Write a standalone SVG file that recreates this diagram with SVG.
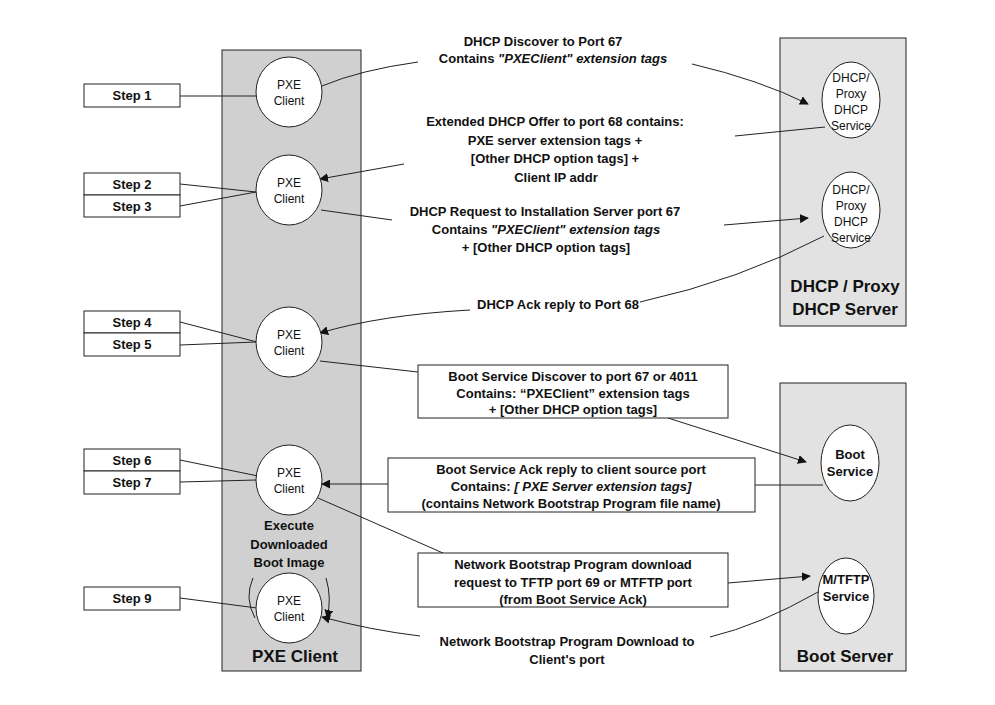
<svg xmlns="http://www.w3.org/2000/svg" width="995" height="705" viewBox="0 0 995 705">
<style>
text{font-family:"Liberation Sans",Arial,sans-serif;fill:#111}
.l{font-size:13px;font-weight:bold;text-anchor:middle}
.c{font-size:12px;text-anchor:middle}
.t{font-size:17px;font-weight:bold;text-anchor:middle}
.s{font-size:13px;font-weight:bold;text-anchor:middle}
.node{fill:#fff;stroke:#222;stroke-width:1}
.box{fill:#fff;stroke:#222;stroke-width:1}
.cn{fill:none;stroke:#222;stroke-width:1}
.ar{fill:none;stroke:#222;stroke-width:1;marker-end:url(#a)}
</style>
<defs><marker id="a" viewBox="0 0 10 10" refX="9" refY="5" markerWidth="9" markerHeight="9" orient="auto" markerUnits="userSpaceOnUse"><path d="M0,0L10,5L0,10z" fill="#111"/></marker></defs>
<rect width="995" height="705" fill="#fff"/>
<g id="lanes">
<rect x="222" y="50" width="139" height="621" fill="#d0d0d0" stroke="#222"/>
<rect x="780" y="38" width="126" height="288" fill="#e2e2e2" stroke="#222"/>
<rect x="780" y="383" width="126" height="288" fill="#e2e2e2" stroke="#222"/>
<text class="t" x="295" y="662">PXE Client</text>
<text class="t" x="845" y="292">DHCP / Proxy</text>
<text class="t" x="845" y="315">DHCP Server</text>
<text class="t" x="845" y="662">Boot Server</text>
</g>
<g id="connectors">
<line class="cn" x1="180" y1="96" x2="256" y2="96"/>
<line class="cn" x1="180" y1="184" x2="256" y2="192"/>
<line class="cn" x1="180" y1="206" x2="256" y2="192"/>
<line class="cn" x1="180" y1="322" x2="257" y2="342"/>
<line class="cn" x1="180" y1="345" x2="256" y2="342"/>
<line class="cn" x1="180" y1="460" x2="258" y2="476"/>
<line class="cn" x1="180" y1="482" x2="256" y2="480"/>
<line class="cn" x1="180" y1="598" x2="257" y2="608"/>
<path class="cn" d="M322,86 Q360,70 418,62"/>
<path class="ar" d="M692,64 Q760,80 808,104"/>
<path class="cn" d="M825,127 L735,136"/>
<path class="ar" d="M404,164 L320,179"/>
<path class="cn" d="M321,210 L392,220"/>
<path class="ar" d="M724,225 L808,218"/>
<path class="cn" d="M824,236 Q740,280 640,302"/>
<path class="ar" d="M470,310 Q380,315 320,333"/>
<path class="cn" d="M320,361 L418,372"/>
<path class="ar" d="M668,418 L806,462"/>
<path class="cn" d="M823,485 L755,485"/>
<path class="ar" d="M388,484 L322,484"/>
<path class="cn" d="M318,498 L452,557"/>
<path class="ar" d="M728,583 L810,576"/>
<path class="cn" d="M818,592 Q760,625 710,637"/>
<path class="ar" d="M420,636 Q370,630 322,617"/>
<path class="cn" d="M253,578 Q244,598 255,618"/>
<path class="ar" d="M326,578 Q332,598 327,618"/>
</g>
<g id="steps">
<rect class="box" x="84" y="84" width="96" height="23"/><text class="s" x="132" y="100">Step 1</text>
<rect class="box" x="84" y="173" width="96" height="22"/><text class="s" x="132" y="189">Step 2</text>
<rect class="box" x="84" y="195" width="96" height="22"/><text class="s" x="132" y="211">Step 3</text>
<rect class="box" x="84" y="311" width="96" height="22"/><text class="s" x="132" y="327">Step 4</text>
<rect class="box" x="84" y="333" width="96" height="23"/><text class="s" x="132" y="349">Step 5</text>
<rect class="box" x="84" y="449" width="96" height="22"/><text class="s" x="132" y="465">Step 6</text>
<rect class="box" x="84" y="471" width="96" height="23"/><text class="s" x="132" y="487">Step 7</text>
<rect class="box" x="84" y="587" width="96" height="23"/><text class="s" x="132" y="603">Step 9</text>
</g>
<g id="pxe1"><ellipse class="node" cx="289" cy="92" rx="33" ry="35"/><text class="c" x="289" y="89">PXE</text><text class="c" x="289" y="105">Client</text></g>
<g id="pxe2"><ellipse class="node" cx="289" cy="190" rx="33" ry="35"/><text class="c" x="289" y="187">PXE</text><text class="c" x="289" y="203">Client</text></g>
<g id="pxe3"><ellipse class="node" cx="289" cy="342" rx="33" ry="35"/><text class="c" x="289" y="339">PXE</text><text class="c" x="289" y="355">Client</text></g>
<g id="pxe4"><ellipse class="node" cx="289" cy="480" rx="33" ry="35"/><text class="c" x="289" y="477">PXE</text><text class="c" x="289" y="493">Client</text></g>
<g id="pxe5"><ellipse class="node" cx="289" cy="608" rx="33" ry="35"/><text class="c" x="289" y="605">PXE</text><text class="c" x="289" y="621">Client</text></g>
<g id="dhcp1"><ellipse class="node" cx="851" cy="100" rx="29" ry="38"/><text class="c" x="851" y="82">DHCP/</text><text class="c" x="851" y="98">Proxy</text><text class="c" x="851" y="114">DHCP</text><text class="c" x="851" y="130">Service</text></g>
<g id="dhcp2"><ellipse class="node" cx="851" cy="210" rx="29" ry="38"/><text class="c" x="851" y="194">DHCP/</text><text class="c" x="851" y="210">Proxy</text><text class="c" x="851" y="226">DHCP</text><text class="c" x="851" y="242">Service</text></g>
<g id="boot"><ellipse class="node" cx="850" cy="463" rx="29" ry="38"/><text class="l" x="850" y="459">Boot</text><text class="l" x="850" y="476">Service</text></g>
<g id="tftp"><ellipse class="node" cx="846" cy="596" rx="28" ry="38"/><text class="l" x="846" y="584">M/TFTP</text><text class="l" x="846" y="601">Service</text></g>
<g id="labels">
<text class="l" x="543" y="46">DHCP Discover to Port 67</text>
<text class="l" x="553" y="63">Contains  <tspan font-style="italic">"PXEClient" extension tags</tspan></text>
<text class="l" x="555" y="126">Extended DHCP Offer to port 68 contains:</text>
<text class="l" x="555" y="145">PXE server extension tags +</text>
<text class="l" x="555" y="163">[Other DHCP option tags] +</text>
<text class="l" x="556" y="182">Client IP addr</text>
<text class="l" x="545" y="216">DHCP Request to Installation Server port 67</text>
<text class="l" x="546" y="234">Contains  <tspan font-style="italic">"PXEClient" extension tags</tspan></text>
<text class="l" x="546" y="252">+ [Other DHCP option tags]</text>
<text class="l" x="558" y="309">DHCP Ack reply to Port 68</text>
<text class="l" x="289" y="530">Execute</text>
<text class="l" x="289" y="549">Downloaded</text>
<text class="l" x="289" y="567">Boot Image</text>
<text class="l" x="567" y="646">Network Bootstrap Program Download to</text>
<text class="l" x="567" y="664">Client's port</text>
</g>
<g id="msg1"><rect class="box" x="418" y="365" width="310" height="53"/>
<text class="l" x="573" y="381">Boot Service Discover to port 67 or 4011</text>
<text class="l" x="573" y="398">Contains: “PXEClient” extension tags</text>
<text class="l" x="573" y="414">+ [Other DHCP option tags]</text></g>
<g id="msg2"><rect class="box" x="388" y="458" width="367" height="54"/>
<text class="l" x="571" y="474">Boot Service Ack reply to client source port</text>
<text class="l" x="571" y="491">Contains: <tspan font-style="italic">[ PXE Server extension tags]</tspan></text>
<text class="l" x="571" y="508">(contains Network Bootstrap Program file name)</text></g>
<g id="msg3"><rect class="box" x="418" y="553" width="310" height="54"/>
<text class="l" x="573" y="569">Network Bootstrap Program download</text>
<text class="l" x="573" y="587">request to TFTP port 69 or MTFTP port</text>
<text class="l" x="573" y="604">(from Boot Service Ack)</text></g>
</svg>
